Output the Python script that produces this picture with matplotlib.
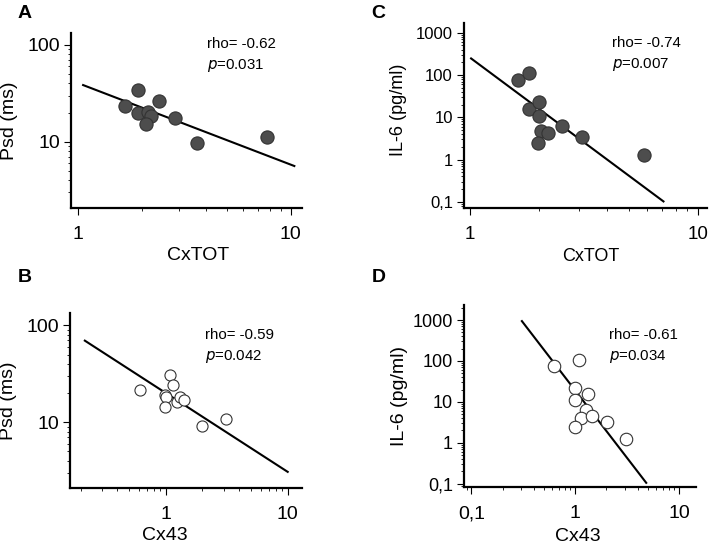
import matplotlib
matplotlib.use("Agg")
import matplotlib.pyplot as plt
from matplotlib.ticker import FixedLocator, LogLocator, FuncFormatter, NullFormatter

plt.rcParams["font.family"] = ["Liberation Sans", "DejaVu Sans"]

# Panel A: Psd vs CxTOT (filled)
a_x = [1.67, 1.91, 1.92, 2.14, 2.22, 2.10, 2.41, 2.85, 3.65, 7.74]
a_y = [23.6, 34.3, 19.6, 20.4, 18.5, 15.1, 26.5, 17.5, 9.6, 11.3]
a_fit_x = [1.06, 10.4]
a_fit_y = [38.5, 5.6]

# Panel C: IL-6 vs CxTOT (filled)
c_x = [1.63, 1.82, 1.82, 2.01, 2.00, 2.05, 2.20, 1.98, 2.53, 3.10, 5.79]
c_y = [78.5, 112, 16.1, 23.3, 10.6, 4.7, 4.3, 2.49, 6.4, 3.38, 1.29]
c_fit_x = [1.01, 7.08]
c_fit_y = [247, 0.103]

# Panel B: Psd vs Cx43 (open)
b_x = [0.62, 1.08, 1.14, 0.99, 1.00, 0.99, 1.23, 1.31, 1.42, 2.00, 3.11]
b_y = [21.7, 31.0, 24.0, 19.3, 18.1, 14.3, 16.1, 18.1, 16.9, 9.25, 10.7]
b_fit_x = [0.217, 10.0]
b_fit_y = [69.5, 3.08]

# Panel D: IL-6 vs Cx43 (open)
d_x = [0.63, 1.10, 1.00, 1.00, 1.33, 1.26, 1.15, 1.45, 1.00, 2.03, 3.12]
d_y = [75.8, 105, 22.4, 10.9, 16.0, 6.2, 4.0, 4.5, 2.43, 3.2, 1.26]
d_fit_x = [0.307, 4.84]
d_fit_y = [945, 0.105]

stats = {
    "A": ("-0.62", "0.031"),
    "B": ("-0.59", "0.042"),
    "C": ("-0.74", "0.007"),
    "D": ("-0.61", "0.034"),
}

W, H = 709, 550
fig = plt.figure(figsize=(W / 100, H / 100), dpi=100)


def px_axes(l, r, t, b):
    return fig.add_axes([l / W, 1 - b / H, (r - l) / W, (b - t) / H])


def fmt(v, pos):
    # decimal comma, as in the original figure
    if v >= 1:
        return f"{v:g}"
    return f"{v:g}".replace(".", ",")


def style(ax, xticks, yticks, xlim, ylim, xfs, yfs):
    ax.set_xscale("log")
    ax.set_yscale("log")
    ax.set_xlim(*xlim)
    ax.set_ylim(*ylim)
    for s in ["top", "right"]:
        ax.spines[s].set_visible(False)
    for s in ["left", "bottom"]:
        ax.spines[s].set_linewidth(1.6)
    ax.xaxis.set_major_locator(FixedLocator(xticks))
    ax.yaxis.set_major_locator(FixedLocator(yticks))
    ax.xaxis.set_minor_locator(LogLocator(base=10, subs=range(2, 10)))
    ax.yaxis.set_minor_locator(LogLocator(base=10, subs=range(2, 10)))
    ax.xaxis.set_major_formatter(FuncFormatter(fmt))
    ax.yaxis.set_major_formatter(FuncFormatter(fmt))
    ax.xaxis.set_minor_formatter(NullFormatter())
    ax.yaxis.set_minor_formatter(NullFormatter())
    ax.tick_params(which="major", length=5, width=0.8, pad=3)
    ax.tick_params(which="minor", length=2.5, width=0.6)
    ax.tick_params(axis="x", labelsize=xfs, pad=8)
    ax.tick_params(axis="y", labelsize=yfs)
    ax.patch.set_alpha(0)


def draw(ax, x, y, fx, fy, filled, ms):
    face = "#4d4d4d" if filled else "white"
    ax.plot(x, y, "o", ms=ms, mfc=face, mec="#333333", mew=0.8,
            zorder=3, clip_on=False)
    ax.plot(fx, fy, color="black", lw=1.5, zorder=2, clip_on=False)


def annotate(key, x, y):
    rho, p = stats[key]
    fig.text(x / W, 1 - y / H, f"rho= {rho}", fontsize=10.8, va="top")
    fig.text(x / W, 1 - (y + 20) / H, r"$\it{p}$" + f"={p}", fontsize=10.8, va="top")


def labels(ax, xl, yl, xc, yc, fs):
    ax.text(xc[0], xc[1], xl, transform=ax.transAxes, ha="center",
            va="center", fontsize=fs)
    ax.text(yc[0], yc[1], yl, transform=ax.transAxes, ha="center",
            va="center", fontsize=fs, rotation=90)


# A
axA = px_axes(71, 302, 33, 208)
style(axA, [1, 10], [10, 100], (0.93, 11.3), (2.06, 133), 14, 14)
draw(axA, a_x, a_y, a_fit_x, a_fit_y, True, 9.5)
labels(axA, "CxTOT", "Psd (ms)", (0.55, -0.27), (-0.265, 0.5), 14)
annotate("A", 207, 37)

# C
axC = px_axes(464, 707, 23, 208)
style(axC, [1, 10], [0.1, 1, 10, 100, 1000], (0.94, 11), (0.072, 1700), 13.5, 12)
draw(axC, c_x, c_y, c_fit_x, c_fit_y, True, 9.5)
labels(axC, "CxTOT", "IL-6 (pg/ml)", (0.52, -0.26), (-0.27, 0.53), 13)
annotate("C", 612, 36)

# B
axB = px_axes(70, 302, 313, 488)
style(axB, [1, 10], [10, 100], (0.164, 13.1), (2.1, 134), 14, 14)
draw(axB, b_x, b_y, b_fit_x, b_fit_y, False, 8)
labels(axB, "Cx43", "Psd (ms)", (0.41, -0.27), (-0.265, 0.5), 14)
annotate("B", 205, 328)

# D
axD = px_axes(464, 696, 305, 487)
style(axD, [0.1, 1, 10], [0.1, 1, 10, 100, 1000], (0.085, 14.6), (0.083, 2340), 14, 13)
draw(axD, d_x, d_y, d_fit_x, d_fit_y, False, 9)
labels(axD, "Cx43", "IL-6 (pg/ml)", (0.49, -0.27), (-0.28, 0.5), 14)
annotate("D", 609, 328)

for letter, x, y in [("A", 25, 13), ("C", 378, 13), ("B", 25, 277), ("D", 379, 277)]:
    fig.text(x / W, 1 - y / H, letter, fontsize=14, fontweight="bold",
             ha="center", va="center")

fig.savefig("out.png", dpi=100)
